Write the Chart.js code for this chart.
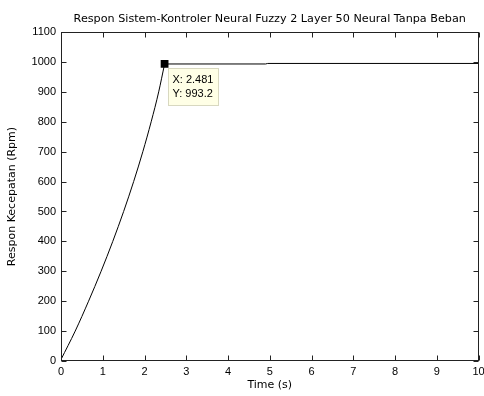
<!DOCTYPE html>
<html>
<head>
<meta charset="utf-8">
<script src="https://cdn.jsdelivr.net/npm/chart.js@4"></script>
<style>
  html, body { margin: 0; padding: 0; background: #fff; }
  #wrap { width: 484px; height: 396px; }
</style>
</head>
<body>
<div id="wrap"><canvas id="respChart" width="484" height="396"></canvas></div>
<script>
// data
// rising part (time in s, speed in rpm)
const riseTime = [0, 0.34, 0.66, 0.96, 1.24, 1.50, 1.74, 1.96, 2.16, 2.34, 2.481]
const riseSpeed = [5, 100, 200, 300, 400, 500, 600, 700, 800, 900, 993.2]
// steady part
const flatTime = [2.481, 4.9, 4.95, 10]
const flatSpeed = [993.2, 993.2, 995, 995]
const tipX = 2.481
const tipY = 993.2
const xTicks = [0, 1, 2, 3, 4, 5, 6, 7, 8, 9, 10]
const yTicks = [0, 100, 200, 300, 400, 500, 600, 700, 800, 900, 1000, 1100]

const FONT = "'Liberation Sans', Arial, sans-serif"
const LABEL_FONT = "'DejaVu Sans', sans-serif"

const risePts = riseTime.map((t, i) => ({ x: t, y: riseSpeed[i] }))
const flatPts = flatTime.map((t, i) => ({ x: t, y: flatSpeed[i] }))

// matlab style box + inward ticks + data tip
const matlabAxes = {
    id: 'matlabAxes',
    afterDatasetsDraw(chart) {
        const ctx = chart.ctx
        const { left, right, top, bottom } = chart.chartArea
        const xs = chart.scales.x
        const ys = chart.scales.y
        const L = Math.round(left) + 0.5, R = Math.round(right) - 0.5
        const T = Math.round(top) + 0.5, B = Math.round(bottom) - 0.5
        ctx.save()
        ctx.strokeStyle = '#222'
        ctx.lineWidth = 1
        ctx.strokeRect(L, T, R - L, B - T)
        ctx.beginPath()
        xTicks.forEach(v => {
            const px = Math.round(xs.getPixelForValue(v)) + 0.5
            ctx.moveTo(px, B); ctx.lineTo(px, B - 5)
            ctx.moveTo(px, T); ctx.lineTo(px, T + 5)
        })
        yTicks.forEach(v => {
            const py = Math.round(ys.getPixelForValue(v)) + 0.5
            ctx.moveTo(L, py); ctx.lineTo(L + 5, py)
            ctx.moveTo(R, py); ctx.lineTo(R - 5, py)
        })
        ctx.stroke()

        // data tip box
        const mx = xs.getPixelForValue(tipX)
        const my = ys.getPixelForValue(tipY)
        const bx = Math.round(mx) + 3.5, by = Math.round(my) + 4.5
        ctx.fillStyle = '#ffffe6'
        ctx.fillRect(bx, by, 50, 37)
        ctx.strokeStyle = '#d8d8c0'
        ctx.strokeRect(bx, by, 50, 37)
        ctx.fillStyle = '#000'
        ctx.font = '11px ' + FONT
        ctx.textBaseline = 'middle'
        ctx.textAlign = 'left'
        ctx.fillText('X: ' + tipX, bx + 4, by + 11)
        ctx.fillText('Y: ' + tipY, bx + 4, by + 25)
        ctx.restore()
    }
}

const chart = new Chart('respChart', {
    type: 'line',
    data: {
        datasets: [
            {
                data: [{ x: tipX, y: tipY }],
                showLine: false,
                pointStyle: 'rect',
                pointRadius: 5.5,
                backgroundColor: '#000',
                borderColor: '#000',
                borderWidth: 0
            },
            {
                data: risePts,
                borderColor: '#000',
                borderWidth: 1,
                pointRadius: 0,
                cubicInterpolationMode: 'monotone',
                fill: false
            },
            {
                data: flatPts,
                borderColor: '#000',
                borderWidth: 1,
                pointRadius: 0,
                tension: 0,
                fill: false
            }
        ]
    },
    options: {
        responsive: false,
        animation: false,
        events: [],
        layout: { padding: { left: 0, right: 5, top: 0, bottom: 0 } },
        plugins: {
            legend: { display: false },
            tooltip: { enabled: false },
            title: {
                display: true,
                fullSize: false,
                text: 'Respon Sistem-Kontroler Neural Fuzzy 2 Layer 50 Neural Tanpa Beban',
                color: '#000',
                font: { family: LABEL_FONT, size: 11.2, weight: 'normal' },
                padding: { top: 12, bottom: 6.6 }
            }
        },
        scales: {
            x: {
                type: 'linear',
                min: 0,
                max: 10,
                grid: { display: false, drawTicks: false },
                border: { display: false },
                ticks: {
                    stepSize: 1,
                    padding: 4,
                    maxRotation: 0,
                    color: '#000',
                    font: { family: FONT, size: 11 }
                },
                title: {
                    display: true,
                    text: 'Time (s)',
                    color: '#000',
                    font: { family: LABEL_FONT, size: 11 },
                    padding: { top: 0, bottom: 4 }
                },
                afterFit(s) {
                    s.height = 35
                    s.paddingLeft = 0
                    s.paddingRight = 0
                }
            },
            y: {
                min: 0,
                max: 1100,
                grid: { display: false, drawTicks: false },
                border: { display: false },
                ticks: {
                    stepSize: 100,
                    padding: 5,
                    color: '#000',
                    font: { family: FONT, size: 11 },
                    callback: v => String(v)
                },
                title: {
                    display: true,
                    text: 'Respon Kecepatan (Rpm)',
                    color: '#000',
                    font: { family: LABEL_FONT, size: 11 },
                    padding: { top: 6, bottom: 0 }
                },
                afterFit(s) {
                    s.width = 61
                    s.paddingTop = 0
                    s.paddingBottom = 0
                }
            }
        }
    },
    plugins: [matlabAxes]
})
</script>
</body>
</html>
